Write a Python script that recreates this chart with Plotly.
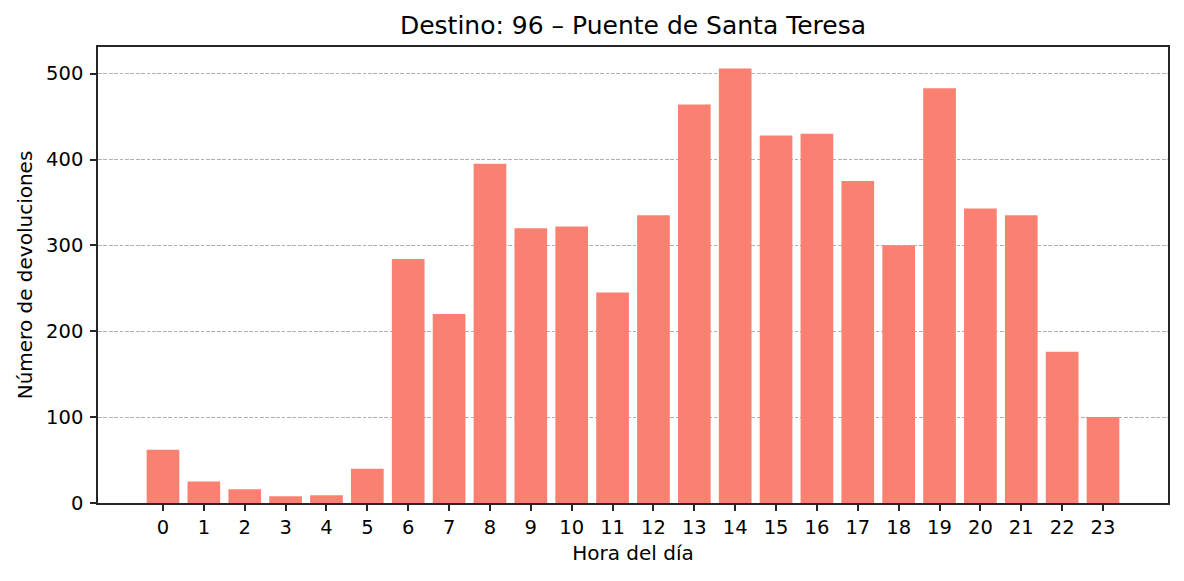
import plotly.graph_objects as go

hours = list(range(24))
devoluciones = [62, 25, 16, 8, 9, 40, 284, 220, 395, 320, 322, 245, 335, 464,
                506, 428, 430, 375, 300, 483, 343, 335, 176, 100]
tick_labels = [str(h) for h in hours]
y_ticks = [0, 100, 200, 300, 400, 500]

title_text = "Destino: 96 \u2013 Puente de Santa Teresa"
x_title = "Hora del día"
y_title = "Número de devoluciones"

FONT = "DejaVu Sans"
AXC = "#262626"

fig = go.Figure(
    go.Bar(x=hours, y=devoluciones, width=0.8, marker=dict(color="#FA8072", line=dict(width=0)))
)

fig.update_layout(
    width=1184, height=581,
    margin=dict(l=98, r=16, t=47, b=78),
    paper_bgcolor="white", plot_bgcolor="white",
    font=dict(family=FONT, size=20, color="black"),
    showlegend=False,
    bargap=0.2,
    title=dict(text=title_text, x=0.5, xref="paper", xanchor="center",
               y=1 - 25 / 581, yref="container", yanchor="middle",
               font=dict(family=FONT, size=25, color="black")),
)

fig.update_xaxes(
    range=[-1.59, 24.59],
    tickmode="array", tickvals=hours, ticktext=tick_labels,
    ticks="outside", ticklen=6, tickwidth=1.5, tickcolor=AXC,
    showline=True, linecolor=AXC, linewidth=1.6, mirror=True,
    showgrid=False, zeroline=False,
    tickfont=dict(family=FONT, size=19.5, color="black"),
    title=dict(text=x_title, font=dict(family=FONT, size=20, color="black"), standoff=8),
)

fig.update_yaxes(
    range=[0, 531],
    tickmode="array", tickvals=y_ticks, ticktext=[str(v) for v in y_ticks],
    ticks="outside", ticklen=6, tickwidth=1.5, tickcolor=AXC,
    showline=True, linecolor=AXC, linewidth=1.6, mirror=True,
    showgrid=True, gridcolor="#b0b0b0", gridwidth=1, griddash="3.8px,1.6px",
    zeroline=False, ticklabelstandoff=3,
    tickfont=dict(family=FONT, size=19.5, color="black"),
    title=dict(text=y_title, font=dict(family=FONT, size=20, color="black"), standoff=8),
)

fig.write_html("out.html")
